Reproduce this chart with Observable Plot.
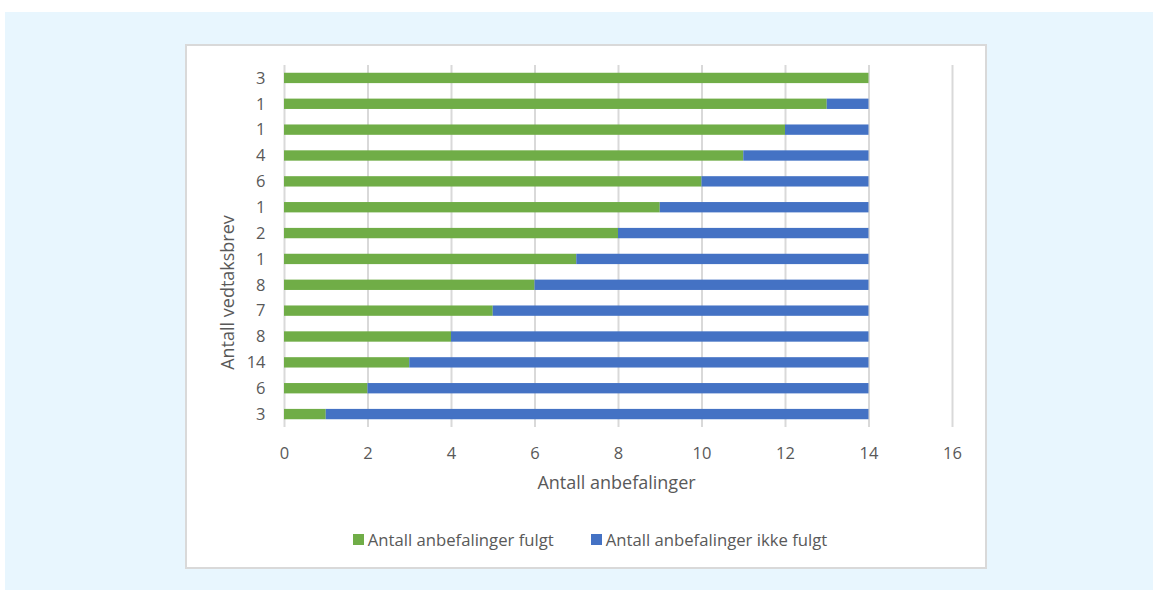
<!DOCTYPE html>
<html>
<head>
<meta charset="utf-8">
<script src="https://cdn.jsdelivr.net/npm/d3@7"></script>
<script src="https://cdn.jsdelivr.net/npm/@observablehq/plot@0.6"></script>
<style>
  html, body { margin: 0; padding: 0; background: #ffffff; }
  body { width: 1153px; height: 590px; position: relative; overflow: hidden; font-family: "Open Sans", "Liberation Sans", sans-serif; }
  #panel { position: absolute; left: 5px; top: 12px; right: 0; bottom: 0; background: #e8f6fe; }
  #box { position: absolute; left: 185px; top: 44px; width: 798px; height: 521px; background: #ffffff; border: 2px solid #d9d9d9; }
  #chart { position: absolute; left: 0; top: 0; }
  #legend { position: absolute; left: 0; width: 1180px; top: 528px; display: flex; justify-content: center; align-items: center; gap: 37px; font-size: 16.7px; color: #595959; white-space: nowrap; }
  #legend .item { display: flex; align-items: center; }
  #legend .sw { width: 11px; height: 11px; margin-right: 4px; }
</style>
</head>
<body>
<div id="panel"></div>
<div id="box"></div>
<div id="chart"></div>
<div id="legend"></div>
<script>
// Number of recommendations followed per decision letter (rows, bottom to top)
const fulgt = [1, 2, 3, 4, 5, 6, 7, 8, 9, 10, 11, 12, 13, 14];
// Number of recommendations not followed, same rows
const ikkeFulgt = [13, 12, 11, 10, 9, 8, 7, 6, 5, 4, 3, 2, 1, 0];
// Number of decision letters in each row (y tick labels)
const vedtaksbrev = [3, 6, 14, 8, 7, 8, 1, 2, 1, 6, 4, 1, 1, 3];
// Series names and colours
const series = ["Antall anbefalinger fulgt", "Antall anbefalinger ikke fulgt"];
const colors = ["#70AD47", "#4472C4"];
// X axis ticks
const xTicks = [0, 2, 4, 6, 8, 10, 12, 14, 16];
const xLabel = "Antall anbefalinger";
const yLabel = "Antall vedtaksbrev";

const rows = [];
fulgt.forEach((f, i) => {
  rows.push({rad: i, serie: series[0], verdi: f});
  rows.push({rad: i, serie: series[1], verdi: ikkeFulgt[i]});
});
const radOrder = fulgt.map((_, i) => i).reverse();

const chart = Plot.plot({
  width: 1153,
  height: 590,
  marginLeft: 284,
  marginRight: 201,
  marginTop: 65,
  marginBottom: 163,
  style: {background: "transparent", fontFamily: "'Open Sans', 'Liberation Sans', sans-serif", fontSize: "16.5px", color: "#595959", overflow: "visible"},
  x: {domain: [0, 16]},
  y: {domain: radOrder, paddingInner: 0.6, paddingOuter: 0.3, round: false},
  color: {domain: series, range: colors},
  marks: [
    Plot.ruleX(xTicks, {stroke: "#d9d9d9", strokeWidth: 2}),
    Plot.barX(rows, Plot.stackX({y: "rad", x: "verdi", fill: "serie", order: series})),
    Plot.axisX(xTicks, {tickSize: 0, tickPadding: 20, label: null, fill: "#595959"}),
    Plot.axisY({tickSize: 0, tickPadding: 19, label: null, tickFormat: (r) => String(vedtaksbrev[r]), fill: "#595959"}),
    Plot.text([xLabel], {frameAnchor: "bottom", textAnchor: "middle", lineAnchor: "middle", dy: 56, dx: -2, fill: "#595959", fontSize: 18}),
    Plot.text([yLabel], {frameAnchor: "left", textAnchor: "middle", lineAnchor: "middle", rotate: -90, dx: -56, dy: 46, fill: "#595959", fontSize: 18})
  ]
});
document.getElementById("chart").appendChild(chart);

const legend = document.getElementById("legend");
series.forEach((s, i) => {
  const item = document.createElement("div");
  item.className = "item";
  const sw = document.createElement("span");
  sw.className = "sw";
  sw.style.background = colors[i];
  const label = document.createElement("span");
  label.textContent = s;
  item.appendChild(sw);
  item.appendChild(label);
  legend.appendChild(item);
});
</script>
</body>
</html>
